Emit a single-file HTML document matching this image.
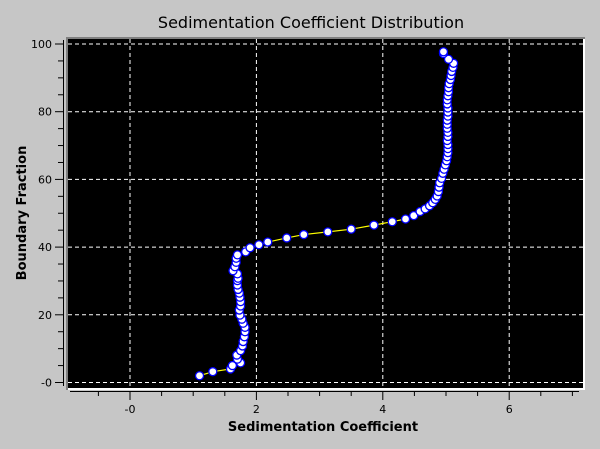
<!DOCTYPE html>
<html><head><meta charset="utf-8"><style>
body{margin:0;background:#c6c6c6;}
svg{display:block;font-family:"DejaVu Sans","Liberation Sans",sans-serif;}
</style></head><body>
<svg width="600" height="449" viewBox="0 0 600 449">
<rect x="0" y="0" width="600" height="449" fill="#c6c6c6"/>
<text x="311" y="28" text-anchor="middle" font-size="16" fill="#000">Sedimentation Coefficient Distribution</text>
<rect x="66" y="37" width="519" height="353" fill="#fff"/>
<path d="M66 390 V37 H585 V39 H68 V390 Z" fill="#808080"/>
<rect x="68" y="39" width="515" height="349" fill="#000"/>
<g id="grid"></g>
<g id="axes"></g>
<g id="series"></g>
<text x="323" y="431" text-anchor="middle" font-size="13" font-weight="bold">Sedimentation Coefficient</text>
<text x="0" y="0" transform="translate(26,213) rotate(-90)" text-anchor="middle" font-size="13" font-weight="bold">Boundary Fraction</text>
</svg>
<script>
const xValues=[1.10,1.31,1.59,1.62,1.75,1.70,1.69,1.75,1.78,1.79,1.81,1.82,1.82,1.79,1.77,1.74,1.73,1.75,1.75,1.74,1.73,1.71,1.70,1.70,1.71,1.70,1.63,1.66,1.68,1.68,1.70,1.83,1.90,2.04,2.18,2.48,2.75,3.13,3.50,3.86,4.15,4.36,4.49,4.59,4.67,4.74,4.79,4.83,4.86,4.88,4.89,4.90,4.93,4.95,4.97,4.99,5.01,5.02,5.03,5.03,5.03,5.02,5.03,5.03,5.02,5.02,5.02,5.03,5.03,5.03,5.02,5.02,5.03,5.04,5.04,5.05,5.07,5.08,5.09,5.11,5.12,5.04,4.96,4.96];
const yValues=[2.0,3.2,4.0,5.0,5.8,6.9,8.1,9.4,10.8,12.1,13.5,15.0,16.3,17.5,18.7,19.9,21.4,22.6,23.9,25.2,26.4,27.5,28.8,30.1,30.8,32.1,33.0,34.2,35.5,36.7,37.7,38.6,39.8,40.7,41.5,42.7,43.7,44.5,45.3,46.5,47.5,48.3,49.3,50.5,51.3,52.2,53.1,54.1,55.1,56.4,57.7,59.0,60.3,61.8,63.0,64.3,65.5,66.7,67.9,69.1,70.3,71.5,72.7,73.9,75.1,76.3,77.5,78.7,79.9,81.1,82.3,83.5,84.7,85.9,87.1,88.3,89.5,90.7,91.9,93.1,94.3,95.5,97.2,97.7];
const xTickLabels=["-0","2","4","6"];
const xTickValues=[0,2,4,6];
const yTickLabels=["-0","20","40","60","80","100"];
const yTickValues=[0,20,40,60,80,100];
const NS="http://www.w3.org/2000/svg";
const X=v=>130+v*63.2;
const Y=v=>382.5-v*3.385;
function mk(tag,attrs,parent){const e=document.createElementNS(NS,tag);for(const k in attrs)e.setAttribute(k,attrs[k]);parent.appendChild(e);return e;}
const grid=document.getElementById('grid'),axes=document.getElementById('axes'),series=document.getElementById('series');
xTickValues.forEach((v,i)=>{
 const l=mk('line',{x1:X(v),x2:X(v),y1:39,y2:388,stroke:'#fff','stroke-dasharray':'4,3','stroke-width':1},grid);
 
 
 const t=mk('text',{x:X(v),y:413,'text-anchor':'middle','font-size':11},axes);
 t.textContent=xTickLabels[i];
 
 
});
yTickValues.forEach((v,i)=>{
 const l=mk('line',{x1:68,x2:583,y1:Y(v),y2:Y(v),stroke:'#fff','stroke-dasharray':'4,3','stroke-width':1},grid);
 
 
 const t=mk('text',{x:52,y:Y(v)+4,'text-anchor':'end','font-size':11},axes);
 t.textContent=yTickLabels[i];
 
 
});
const xa=mk('line',{x1:70,x2:579,y1:391.5,y2:391.5,stroke:'#000'},axes);


for(let v=-1;v<=7;v+=0.5){const px=X(v);if(px<70||px>579)continue;const major=Math.abs(v%2)<1e-9;
 const t=mk('line',{x1:px,x2:px,y1:391.5,y2:major?400:396,stroke:'#000'},axes);
 
 }
const ya=mk('line',{x1:63.5,x2:63.5,y1:40,y2:386,stroke:'#000'},axes);


for(let v=0;v<=100;v+=5){const major=v%20===0;
 const t=mk('line',{x1:major?55:58,x2:63.5,y1:Y(v),y2:Y(v),stroke:'#000'},axes);
 
 }
const pl=mk('polyline',{points:xValues.map((x,i)=>X(x)+','+Y(yValues[i])).join(' '),fill:'none',stroke:'#ff0',"stroke-width":1.2},series);


xValues.forEach((x,i)=>{
 const c=mk('circle',{cx:X(x),cy:Y(yValues[i]),r:4,fill:'#fff',stroke:'#00f','stroke-width':1.3},series);
 
 
});
</script>
</body></html>
